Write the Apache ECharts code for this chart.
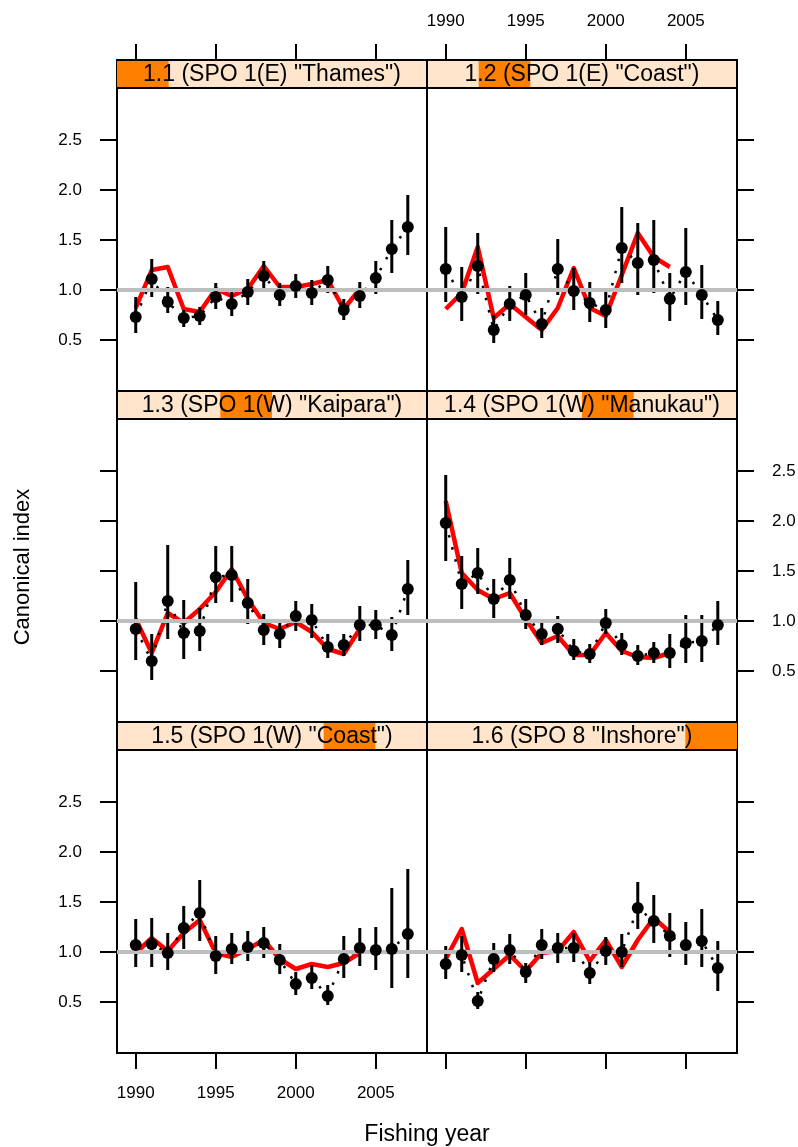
<!DOCTYPE html>
<html>
<head>
<meta charset="utf-8">
<title>Canonical index by fishing year</title>
<script src="https://cdn.jsdelivr.net/npm/echarts@6/dist/echarts.min.js"></script>
<style>
  html, body { margin: 0; padding: 0; background: #fff; }
  #chart { width: 798px; height: 1147px; }
</style>
</head>
<body>
<div id="chart"></div>
<script>
var years = [1990, 1991, 1992, 1993, 1994, 1995, 1996, 1997, 1998, 1999, 2000, 2001, 2002, 2003, 2004, 2005, 2006, 2007];
var fitYears = [1990, 1991, 1992, 1993, 1994, 1995, 1996, 1997, 1998, 1999, 2000, 2001, 2002, 2003, 2004];
var xTicks = [1990, 1995, 2000, 2005];
var yTicks = [0.5, 1.0, 1.5, 2.0, 2.5];

var panelNames = [
  '1.1 (SPO 1(E) "Thames")',
  '1.2 (SPO 1(E) "Coast")',
  '1.3 (SPO 1(W) "Kaipara")',
  '1.4 (SPO 1(W) "Manukau")',
  '1.5 (SPO 1(W) "Coast")',
  '1.6 (SPO 8 "Inshore")'
];

// 1.1 Thames
var thamesIndex = [0.73, 1.11, 0.88, 0.72, 0.74, 0.93, 0.86, 0.98, 1.14, 0.95, 1.04, 0.97, 1.10, 0.80, 0.94, 1.12, 1.41, 1.63];
var thamesLower = [0.57, 0.93, 0.77, 0.63, 0.65, 0.81, 0.74, 0.85, 0.99, 0.84, 0.92, 0.85, 0.97, 0.70, 0.82, 0.96, 1.17, 1.35];
var thamesUpper = [0.93, 1.31, 1.03, 0.80, 0.83, 1.07, 0.98, 1.11, 1.29, 1.07, 1.16, 1.10, 1.24, 0.91, 1.08, 1.29, 1.70, 1.95];
var thamesFit = [0.82, 1.20, 1.23, 0.81, 0.78, 1.01, 0.94, 1.01, 1.24, 1.03, 1.03, 1.06, 1.10, 0.81, 1.01];

// 1.2 East coast
var eCoastIndex = [1.21, 0.93, 1.24, 0.60, 0.86, 0.95, 0.66, 1.21, 0.99, 0.87, 0.80, 1.42, 1.27, 1.30, 0.91, 1.18, 0.95, 0.70];
var eCoastLower = [0.88, 0.69, 0.96, 0.47, 0.69, 0.75, 0.52, 0.95, 0.80, 0.68, 0.62, 1.07, 0.95, 0.97, 0.69, 0.85, 0.71, 0.55];
var eCoastUpper = [1.63, 1.23, 1.57, 0.75, 1.04, 1.17, 0.82, 1.51, 1.22, 1.08, 1.02, 1.83, 1.67, 1.70, 1.17, 1.62, 1.25, 0.89];
var eCoastFit = [0.81, 0.97, 1.43, 0.72, 0.86, 0.73, 0.60, 0.82, 1.22, 0.82, 0.74, 1.15, 1.57, 1.33, 1.23];

// 1.3 Kaipara
var kaiparaIndex = [0.92, 0.60, 1.20, 0.88, 0.90, 1.44, 1.46, 1.18, 0.91, 0.87, 1.05, 1.01, 0.74, 0.76, 0.96, 0.96, 0.86, 1.32];
var kaiparaLower = [0.61, 0.41, 0.82, 0.62, 0.70, 1.18, 1.19, 0.97, 0.76, 0.73, 0.90, 0.83, 0.63, 0.65, 0.80, 0.82, 0.70, 1.06];
var kaiparaUpper = [1.39, 0.87, 1.76, 1.21, 1.13, 1.75, 1.75, 1.42, 1.07, 1.02, 1.20, 1.17, 0.87, 0.87, 1.15, 1.11, 1.04, 1.61];
var kaiparaFit = [1.02, 0.68, 1.08, 0.98, 1.12, 1.29, 1.52, 1.22, 0.98, 0.92, 0.99, 0.89, 0.72, 0.67, 0.92];

// 1.4 Manukau
var manukauIndex = [1.98, 1.37, 1.48, 1.22, 1.41, 1.06, 0.87, 0.92, 0.70, 0.67, 0.98, 0.76, 0.65, 0.68, 0.68, 0.78, 0.80, 0.96];
var manukauLower = [1.60, 1.12, 1.27, 1.03, 1.22, 0.92, 0.76, 0.78, 0.61, 0.58, 0.87, 0.66, 0.56, 0.58, 0.53, 0.58, 0.59, 0.76];
var manukauUpper = [2.46, 1.65, 1.73, 1.42, 1.63, 1.22, 1.00, 1.05, 0.82, 0.77, 1.12, 0.88, 0.76, 0.79, 0.87, 1.06, 1.06, 1.20];
var manukauFit = [2.20, 1.48, 1.31, 1.22, 1.28, 1.02, 0.78, 0.85, 0.66, 0.66, 0.88, 0.70, 0.64, 0.63, 0.68];

// 1.5 West coast
var wCoastIndex = [1.07, 1.08, 0.99, 1.24, 1.39, 0.96, 1.03, 1.05, 1.09, 0.92, 0.68, 0.74, 0.56, 0.93, 1.04, 1.02, 1.03, 1.18];
var wCoastLower = [0.85, 0.85, 0.82, 1.03, 1.11, 0.78, 0.88, 0.91, 0.94, 0.78, 0.57, 0.63, 0.47, 0.74, 0.86, 0.82, 0.64, 0.74];
var wCoastUpper = [1.33, 1.34, 1.19, 1.46, 1.72, 1.16, 1.19, 1.21, 1.25, 1.08, 0.80, 0.87, 0.67, 1.16, 1.24, 1.25, 1.64, 1.83];
var wCoastFit = [0.99, 1.14, 1.01, 1.19, 1.32, 0.99, 0.95, 1.03, 1.12, 0.93, 0.83, 0.88, 0.85, 0.89, 0.99];

// 1.6 SPO 8 inshore
var inshoreIndex = [0.88, 0.97, 0.51, 0.93, 1.02, 0.80, 1.07, 1.04, 1.04, 0.79, 1.01, 1.00, 1.44, 1.31, 1.16, 1.07, 1.11, 0.84];
var inshoreLower = [0.73, 0.80, 0.43, 0.80, 0.88, 0.69, 0.93, 0.89, 0.90, 0.68, 0.87, 0.85, 1.23, 1.09, 0.95, 0.87, 0.85, 0.61];
var inshoreUpper = [1.06, 1.16, 0.60, 1.09, 1.18, 0.89, 1.23, 1.19, 1.19, 0.90, 1.15, 1.18, 1.70, 1.57, 1.39, 1.30, 1.43, 1.11];
var inshoreFit = [0.93, 1.23, 0.69, 0.83, 0.97, 0.81, 0.99, 1.01, 1.20, 0.91, 1.12, 0.85, 1.12, 1.34, 1.20];

var panels = [
  { index: thamesIndex, lower: thamesLower, upper: thamesUpper, fit: thamesFit },
  { index: eCoastIndex, lower: eCoastLower, upper: eCoastUpper, fit: eCoastFit },
  { index: kaiparaIndex, lower: kaiparaLower, upper: kaiparaUpper, fit: kaiparaFit },
  { index: manukauIndex, lower: manukauLower, upper: manukauUpper, fit: manukauFit },
  { index: wCoastIndex, lower: wCoastLower, upper: wCoastUpper, fit: wCoastFit },
  { index: inshoreIndex, lower: inshoreLower, upper: inshoreUpper, fit: inshoreFit }
];

// layout (lattice 2 x 3)
var colLeft = [117, 427];
var panelW = 310;
var stripTop = [60, 391, 722];
var stripH = 28;
var panelH = 303;
var font = 'Liberation Sans, Arial, Helvetica, sans-serif';

var chart = echarts.init(document.getElementById('chart'), null, { renderer: 'canvas' });

var grid = [], xAxis = [], yAxis = [], series = [], graphic = [];

function pairs(xs, ys) {
  return ys.map(function (v, k) { return [xs[k], v]; });
}

panels.forEach(function (p, i) {
  var col = i % 2, row = Math.floor(i / 2);
  var left = colLeft[col];
  var top = stripTop[row] + stripH;

  grid.push({
    left: left, top: top, width: panelW, height: panelH,
    outerBoundsMode: 'none', containLabel: false,
    show: true, borderColor: '#000', borderWidth: 2, backgroundColor: '#fff'
  });

  var xa = {
    gridIndex: i, type: 'value', min: 1988.83, max: 2008.2,
    axisLine: { show: false, onZero: false }, splitLine: { show: false },
    axisTick: { show: true, inside: false, length: 16, customValues: xTicks, lineStyle: { color: '#000', width: 2 } },
    axisLabel: {
      show: false, customValues: xTicks, margin: 32,
      color: '#000', fontSize: 17, fontFamily: font,
      formatter: function (v) { return String(v); }
    }
  };
  if (row === 0) {
    xa.position = 'top';
    xa.offset = stripH;
    xa.axisLabel.show = (col === 1);
    xa.axisLabel.margin = 30;
  } else if (row === 2) {
    xa.position = 'bottom';
    xa.axisLabel.show = (col === 0);
  } else {
    xa.show = false;
  }
  xAxis.push(xa);

  // ticks on the outer side of every panel, labels alternate sides like lattice
  yAxis.push({
    gridIndex: i, type: 'value', min: -0.01, max: 3.02,
    position: col === 0 ? 'left' : 'right',
    axisLine: { show: false, onZero: false }, splitLine: { show: false },
    axisTick: { show: true, inside: false, length: 17, customValues: yTicks, lineStyle: { color: '#000', width: 2 } },
    axisLabel: {
      show: (col === 0 && row !== 1) || (col === 1 && row === 1),
      customValues: yTicks, margin: 35,
      color: '#000', fontSize: 17, fontFamily: font,
      formatter: function (v) { return v.toFixed(1); }
    }
  });

  // reference line at 1
  series.push({
    type: 'line', xAxisIndex: i, yAxisIndex: i, data: [], z: 1,
    markLine: {
      silent: true, symbol: 'none', label: { show: false }, animation: false,
      lineStyle: { color: '#bebebe', width: 4, type: 'solid' },
      data: [{ yAxis: 1 }]
    }
  });

  // fitted (red)
  series.push({
    type: 'line', xAxisIndex: i, yAxisIndex: i, z: 2,
    data: pairs(fitYears, p.fit), symbol: 'none',
    lineStyle: { color: '#ff0000', width: 4.5, join: 'round' }
  });

  // dotted path through the index values
  series.push({
    type: 'line', xAxisIndex: i, yAxisIndex: i, z: 3,
    data: pairs(years, p.index), symbol: 'none',
    lineStyle: { color: '#000', width: 2.5, type: [2.5, 10] }
  });

  // error bars
  series.push({
    type: 'custom', xAxisIndex: i, yAxisIndex: i, z: 4,
    data: years.map(function (y, k) { return [y, p.lower[k], p.upper[k]]; }),
    encode: { x: 0, y: [1, 2] },
    renderItem: function (params, api) {
      var lo = api.coord([api.value(0), api.value(1)]);
      var hi = api.coord([api.value(0), api.value(2)]);
      return {
        type: 'line',
        shape: { x1: lo[0], y1: lo[1], x2: hi[0], y2: hi[1] },
        style: { stroke: '#000', lineWidth: 3 }
      };
    }
  });

  // points
  series.push({
    type: 'scatter', xAxisIndex: i, yAxisIndex: i, z: 5,
    data: pairs(years, p.index), symbol: 'circle', symbolSize: 12,
    itemStyle: { color: '#000', opacity: 1, borderWidth: 0 }
  });

  // strip
  graphic.push({
    type: 'rect', z: 10,
    shape: { x: left, y: stripTop[row], width: panelW, height: stripH },
    style: { fill: '#ffe5cc', stroke: '#000', lineWidth: 2 }
  });
  graphic.push({
    type: 'rect', z: 11,
    shape: { x: left + i * panelW / 6, y: stripTop[row] + 1, width: panelW / 6, height: stripH - 2 },
    style: { fill: '#ff7f00' }
  });
  graphic.push({
    type: 'text', z: 12,
    x: left + panelW / 2, y: stripTop[row] + stripH / 2 + 1,
    style: {
      text: panelNames[i], fill: '#000', font: '23px ' + font,
      align: 'center', verticalAlign: 'middle'
    }
  });
});

graphic.push({
  type: 'text', x: 23, y: 567, rotation: Math.PI / 2,
  style: { text: 'Canonical index', fill: '#000', font: '22px ' + font, align: 'center', verticalAlign: 'middle' }
});
graphic.push({
  type: 'text', x: 427, y: 1135,
  style: { text: 'Fishing year', fill: '#000', font: '23px ' + font, align: 'center', verticalAlign: 'middle' }
});

chart.setOption({
  animation: false,
  backgroundColor: '#fff',
  grid: grid,
  xAxis: xAxis,
  yAxis: yAxis,
  series: series,
  graphic: graphic
});
</script>
</body>
</html>
